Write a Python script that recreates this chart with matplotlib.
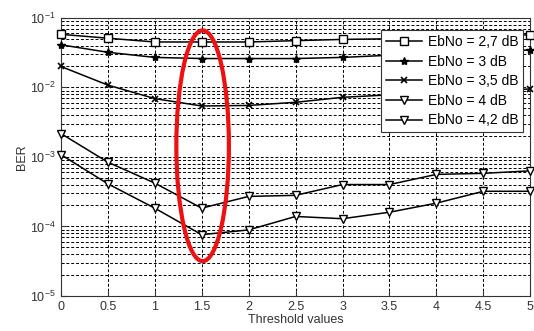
import matplotlib
matplotlib.use("Agg")
import matplotlib.pyplot as plt
from matplotlib.patches import Ellipse

plt.rcParams['font.family'] = ['Liberation Sans', 'DejaVu Sans']

threshold = [0, 0.5, 1, 1.5, 2, 2.5, 3, 3.5, 4, 4.5, 5]
ber_27 = [0.058, 0.051, 0.045, 0.045, 0.045, 0.047, 0.049, 0.050, 0.052, 0.055, 0.057]
ber_30 = [0.041, 0.032, 0.027, 0.026, 0.026, 0.026, 0.027, 0.029, 0.031, 0.033, 0.0345]
ber_35 = [0.020, 0.0108, 0.0069, 0.0054, 0.0055, 0.0061, 0.0072, 0.0078, 0.0083, 0.0088, 0.0095]
ber_40 = [0.00217, 0.00084, 0.00042, 0.000183, 0.00027, 0.00028, 0.00040, 0.00040, 0.00056, 0.00058, 0.00063]
ber_42 = [0.00108, 0.00041, 0.000183, 0.000076, 0.000089, 0.000139, 0.000129, 0.000160, 0.000216, 0.00032, 0.00032]
labels = ['EbNo = 2,7 dB', 'EbNo = 3 dB', 'EbNo = 3,5 dB', 'EbNo = 4 dB', 'EbNo = 4,2 dB']

fig = plt.figure(figsize=(5.34, 3.31), dpi=100)
ax = fig.add_axes([0.114, 0.106, 0.879, 0.840])

styles = [
    dict(marker='s', ms=6, mfc='white'),
    dict(marker='*', ms=6, mfc='black'),
    dict(marker='x', ms=5, mew=1.2),
    dict(marker='v', ms=6, mfc='white'),
    dict(marker='v', ms=6, mfc='white'),
]
for ys, lab, st in zip([ber_27, ber_30, ber_35, ber_40, ber_42], labels, styles):
    ax.semilogy(threshold, ys, color='black', lw=1.1, mec='black',
                label=lab, clip_on=False, zorder=3, **st)

ax.set_xlim(0, 5)
ax.set_ylim(1e-5, 1e-1)
ax.set_xticks([0, 0.5, 1, 1.5, 2, 2.5, 3, 3.5, 4, 4.5, 5])
ax.set_xticklabels(['0', '0.5', '1', '1.5', '2', '2.5', '3', '3.5', '4', '4.5', '5'])
ax.grid(True, which='major', ls=(0, (3, 2)), color='black', lw=0.7)
ax.grid(True, which='minor', axis='y', ls=(0, (3, 2)), color='black', lw=0.7)
ax.tick_params(labelsize=9, direction='in', colors='#333333')
ax.tick_params(which='minor', direction='in')
for s in ax.spines.values():
    s.set_color('#333333')
ax.set_xlabel('Threshold values', fontsize=9, labelpad=1, color='#333333')
ax.set_ylabel('BER', fontsize=9, labelpad=2, color='#333333')

leg = ax.legend(loc='upper right', bbox_to_anchor=(1.0, 0.98), fontsize=10,
                fancybox=False, framealpha=1, edgecolor='#333333',
                handlelength=2.6, borderpad=0.35, labelspacing=0.4,
                handletextpad=0.4)
leg.get_frame().set_linewidth(0.8)
leg.set_zorder(5)

ax.add_patch(Ellipse((0.302, 0.54), 0.112, 0.83, transform=ax.transAxes,
                     fill=False, edgecolor='#ee1111', lw=3, zorder=6, clip_on=False))

fig.savefig('out.png', dpi=100)
